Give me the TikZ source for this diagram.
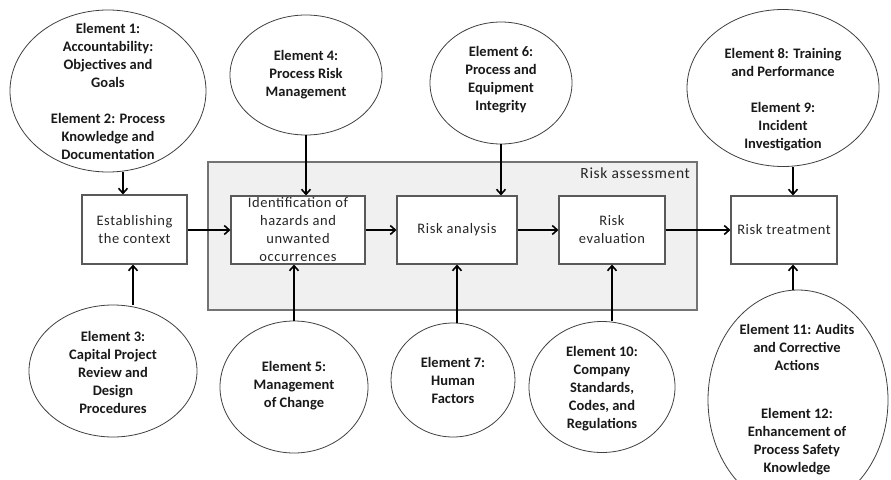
\documentclass[tikz,border=0pt]{standalone}
\usepackage{fontspec}
\setmainfont{Carlito}
\newfontfamily\boxfont[LetterSpace=4]{Carlito}
\usetikzlibrary{shapes.geometric,arrows.meta}
\begin{document}
\begin{tikzpicture}[x=1pt,y=-1pt,
  elem/.style={ellipse, draw=black!75, line width=0.8pt, fill=white, inner sep=0pt},
  etext/.style={align=center, font=\fontsize{14.5}{18}\selectfont\bfseries, text=black!90, inner sep=0pt},
  stepbox/.style={rectangle, draw=black!65, line width=1.1pt, fill=white, inner sep=0pt,
    align=center, font=\fontsize{14.5}{18}\selectfont\boxfont, text=black!85},
  arr/.style={line width=1.6pt, -{Straight Barb[length=5pt,width=9pt,line width=1.6pt]}}]
\useasboundingbox (0,0) rectangle (891,479);
\fill[white] (0,0) rectangle (891,479);

% risk assessment region
\node[draw=black!55, fill=black!6, line width=1.1pt, inner sep=0pt,
  minimum width=489pt, minimum height=148pt] (region) at (452.5,236) {};
\node[anchor=east, inner sep=0pt, font=\fontsize{15.5}{18}\selectfont\boxfont, text=black!85]
  (regionlabel) at (690,173) {Risk assessment};

% process boxes
\node[stepbox, minimum width=105pt, minimum height=69pt] (ctx) at (134.5,229.5) {Establishing\\the context};
\node[stepbox, minimum width=134pt, minimum height=68pt] (idf) at (298,230) {Identification of\\hazards and\\unwanted\\occurrences};
\node[stepbox, minimum width=120pt, minimum height=68pt] (ra) at (457,230) {Risk analysis};
\node[stepbox, minimum width=106pt, minimum height=68pt] (re) at (612,230) {Risk\\evaluation};
\node[stepbox, minimum width=106pt, minimum height=68pt] (rt) at (784,230) {Risk treatment};

% element ellipses (shape) and their texts
\node[elem, minimum width=196pt, minimum height=162pt] (e1) at (108,91) {};
\node[etext] (e1t) at (108,91)
  {Element 1:\\Accountability:\\Objectives and\\Goals\\[18pt]Element 2: Process\\Knowledge and\\Documentation};
\node[elem, minimum width=152pt, minimum height=120pt] (e4) at (306,75) {};
\node[etext] (e4t) at (306,75) {Element 4:\\Process Risk\\Management};
\node[elem, minimum width=142pt, minimum height=122pt] (e6) at (501,83) {};
\node[etext] (e6t) at (501,80) {Element 6:\\Process and\\Equipment\\Integrity};
\node[elem, minimum width=192pt, minimum height=157pt] (e8) at (783,88) {};
\node[etext] (e8t) at (783,100)
  {Element 8: Training\\and Performance\\[18pt]Element 9:\\Incident\\Investigation};
\node[elem, minimum width=168pt, minimum height=132pt] (e3) at (113,371) {};
\node[etext] (e3t) at (113,372) {Element 3:\\Capital Project\\Review and\\Design\\Procedures};
\node[elem, minimum width=148pt, minimum height=132pt] (e5) at (294,387) {};
\node[etext] (e5t) at (294,386) {Element 5:\\Management\\of Change};
\node[elem, minimum width=124pt, minimum height=114pt] (e7) at (453,380) {};
\node[etext] (e7t) at (453,380) {Element 7:\\Human\\Factors};
\node[elem, minimum width=146pt, minimum height=131pt] (e10) at (602,387) {};
\node[etext] (e10t) at (602,389) {Element 10:\\Company\\Standards,\\Codes, and\\Regulations};
\node[elem, minimum width=180pt, minimum height=220pt] (e11) at (798,400) {};
\node[etext] (e11t) at (797,400)
  {Element 11: Audits\\and Corrective\\Actions\\[30pt]Element 12:\\Enhancement of\\Process Safety\\Knowledge};

% helper x positions
\coordinate (x1) at (123,0);
\coordinate (x3) at (133,0);
\coordinate (x8) at (793,0);

% connectors
\draw[arr] (e1.south -| x1) -- (ctx.north -| x1);
\draw[arr] (e3.north -| x3) -- (ctx.south -| x3);
\draw[arr] (ctx.east |- idf.west) -- (idf.west);
\draw[arr] (idf.east) -- (ra.west);
\draw[arr] (ra.east) -- (re.west);
\draw[arr] (re.east) -- (rt.west);
\draw[arr] (e4.south) -- (idf.north -| e4.south);
\draw[arr] (e5.north) -- (idf.south -| e5.north);
\draw[arr] (e6.south) -- (ra.north -| e6.south);
\draw[arr] (ra.south |- e7.north) -- (ra.south);
\draw[arr] (re.south |- e10.north) -- (re.south);
\draw[arr] (e8.south -| x8) -- (rt.north -| x8);
\draw[arr] (e11.north -| x8) -- (rt.south -| x8);
\end{tikzpicture}
\end{document}
